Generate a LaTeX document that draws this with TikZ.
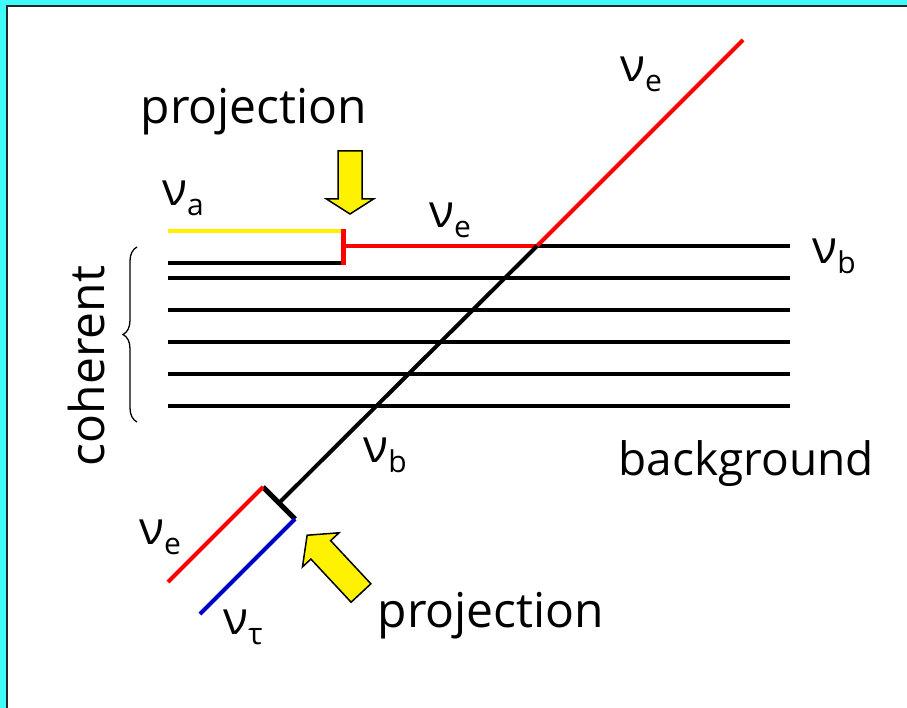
\documentclass[tikz,border=0pt]{standalone}
\usepackage{fontspec}
\setmainfont{Open Sans}
\usetikzlibrary{decorations.pathreplacing}

\definecolor{framecyan}{RGB}{64,250,250}
\definecolor{nublue}{RGB}{0,0,200}

% neutrino symbol with a lowered flavour index
\newcommand{\nulab}[1]{ν\raisebox{-10pt}{\fontsize{30}{30}\selectfont #1}}

\begin{document}
\begin{tikzpicture}[
x=1pt, y=-1pt,
beam/.style={line width=4pt},
capbar/.style={line width=5pt},
nutext/.style={inner sep=0pt, font=\fontsize{46}{46}\selectfont},
bigtext/.style={inner sep=0pt, font=\fontsize{48}{48}\selectfont},
projarrow/.style={draw=black, line width=1.5pt, fill=yellow, line join=miter}
]
\useasboundingbox (0,0) rectangle (907,708);

% ------------------------
% Frame
% ------------------------
\fill[framecyan] (0,0) rectangle (907,708);
\fill[white] (7,6) rectangle (907,708);
\draw[line width=2pt, black!85] (7,708) -- (7,6) -- (907,6);

% ------------------------
% Key points
% ------------------------
\coordinate (cross) at (537,246);
\coordinate (split) at (279,503);
\coordinate (redend) at (263,487);
\coordinate (blueend) at (295,519);

% ------------------------
% Coherent beams (horizontal)
% ------------------------
\draw[beam, yellow] (168,231) -- (343,231);
\draw[beam] (168,263) -- (343,263);
\draw[capbar, red] (343,229) -- (343,265);
\draw[beam, red] (343,246) -- (cross);
\draw[beam] (cross) -- (790,246);
\foreach \yy in {278,310,342,374,406}
  \draw[beam] (168,\yy) -- (790,\yy);

% ------------------------
% Background beam (diagonal)
% ------------------------
\draw[beam, red] (cross) -- (743,40);
\draw[beam] (cross) -- (split);
\draw[capbar] (redend) -- (blueend);
\draw[beam, red] (redend) -- (168,582);
\draw[beam, nublue] (blueend) -- (200,614);

% brace round the coherent lines
\draw[line width=1.3pt, decorate, decoration={brace, amplitude=14pt}]
  (137,422) -- (137,247);

% ------------------------
% Projection arrows
% ------------------------
\begin{scope}[shift={(350,151)}, rotate=-90]
\draw[projarrow] (0,-12) -- (48,-12) -- (48,-23.5) -- (63,0)
  -- (48,23.5) -- (48,12) -- (0,12) -- cycle;
\end{scope}
\begin{scope}[shift={(361,593)}, rotate=133]
\draw[projarrow] (0,-13.5) -- (59,-13.5) -- (59,-25) -- (79,0)
  -- (59,25) -- (59,13.5) -- (0,13.5) -- cycle;
\end{scope}

% ------------------------
% Labels
% ------------------------
\node[bigtext] (projtop) at (254,112) {projection};
\node[bigtext] (projbot) at (491,616) {projection};
\node[bigtext, font=\fontsize{46}{46}\selectfont] (backgr) at (746,464) {background};
\node[bigtext, rotate=90] (coher) at (86,366) {coherent};

\node[nutext] (nuetop) at (641,74) {\nulab{e}};
\node[nutext] (nua) at (183,198) {\nulab{a}};
\node[nutext] (nuemid) at (450,220) {\nulab{e}};
\node[nutext] (nubright) at (834,256) {\nulab{b}};
\node[nutext] (nublow) at (385,455) {\nulab{b}};
\node[nutext] (nuelow) at (160,537) {\nulab{e}};
\node[nutext] (nutau) at (243,627) {\nulab{τ}};

\end{tikzpicture}
\end{document}
